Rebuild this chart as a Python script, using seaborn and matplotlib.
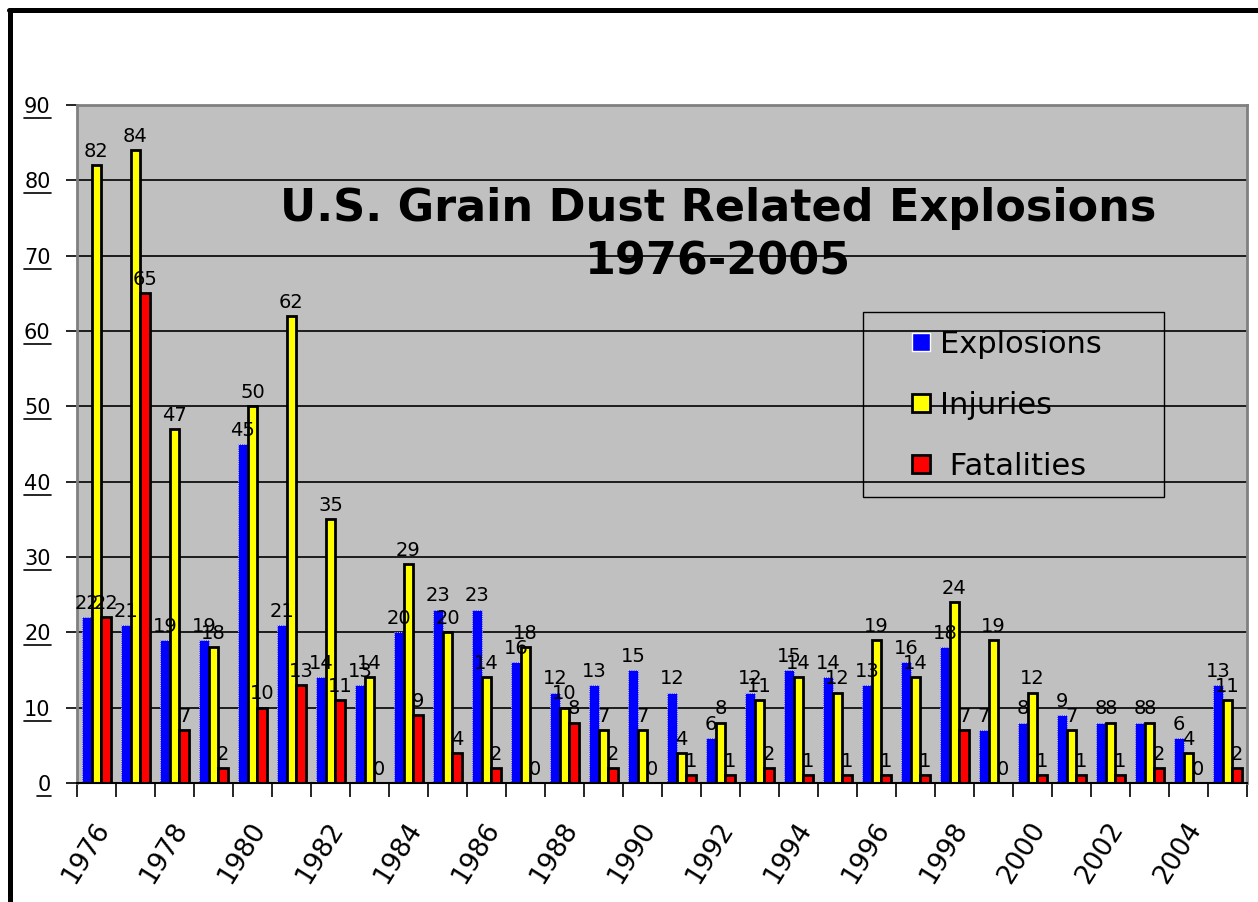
import numpy as np
import pandas as pd
import seaborn as sns
import matplotlib.pyplot as plt
import matplotlib.transforms as mtransforms
from matplotlib.lines import Line2D
from matplotlib.patches import Rectangle

# data
years = [1976, 1977, 1978, 1979, 1980, 1981, 1982, 1983, 1984, 1985,
         1986, 1987, 1988, 1989, 1990, 1991, 1992, 1993, 1994, 1995,
         1996, 1997, 1998, 1999, 2000, 2001, 2002, 2003, 2004, 2005]
explosions = [22, 21, 19, 19, 45, 21, 14, 13, 20, 23,
              23, 16, 12, 13, 15, 12, 6, 12, 15, 14,
              13, 16, 18, 7, 8, 9, 8, 8, 6, 13]
injuries = [82, 84, 47, 18, 50, 62, 35, 14, 29, 20,
            14, 18, 10, 7, 7, 4, 8, 11, 14, 12,
            19, 14, 24, 19, 12, 7, 8, 8, 4, 11]
fatalities = [22, 65, 7, 2, 10, 13, 11, 0, 9, 4,
              2, 0, 8, 2, 0, 1, 1, 2, 1, 1,
              1, 1, 7, 0, 1, 1, 1, 2, 0, 2]
series = ['Explosions', 'Injuries', 'Fatalities']
colors = ['#0000FF', '#FFFF00', '#FF0000']

df = pd.DataFrame({
    'year': years * 3,
    'kind': [s for s in series for _ in years],
    'value': explosions + injuries + fatalities,
})

sns.set_style('white')
plt.rcParams['font.family'] = ['DejaVu Sans']
plt.rcParams['text.color'] = 'black'
plt.rcParams['xtick.color'] = 'black'
plt.rcParams['ytick.color'] = 'black'

fig = plt.figure(figsize=(12.58, 9.02), dpi=100)
ax = fig.add_axes([0.0612, 0.132, 0.930, 0.7517])
ax.set_facecolor('#C0C0C0')

sns.barplot(data=df, x='year', y='value', hue='kind', hue_order=series,
            palette=colors, width=0.74, dodge=True, saturation=1,
            legend=False, ax=ax)

# bar outlines like the original
for i, cont in enumerate(ax.containers):
    for p in cont:
        if i == 0:
            p.set_edgecolor('white')
            p.set_linestyle(':')
            p.set_linewidth(0.6)
        else:
            p.set_edgecolor('black')
            p.set_linewidth(2)
    ax.bar_label(cont, fmt='%d', padding=3, fontsize=14, color='black')

ax.set_xlim(-0.5, len(years) - 0.5)
ax.set_ylim(0, 90)
ax.set_yticks(range(0, 91, 10))
ax.set_yticklabels([str(v) for v in range(0, 91, 10)], fontsize=15)
ax.tick_params(axis='y', length=8, width=1.2, color='black', pad=11, left=True)

ax.set_xticks(range(0, len(years), 2))
ax.set_xticklabels([str(y) for y in years[::2]], fontsize=19, rotation=58,
                   ha='right', va='center', rotation_mode='anchor')
ax.set_xticks(np.arange(-0.5, len(years), 1), minor=True)
ax.tick_params(axis='x', which='major', length=0, pad=30)
ax.tick_params(axis='x', which='minor', length=10, width=1.2, color='black',
               bottom=True)
offset = mtransforms.ScaledTranslation(0.07, 0, fig.dpi_scale_trans)
for lbl in ax.get_xticklabels():
    lbl.set_transform(lbl.get_transform() + offset)

ax.set_xlabel('')
ax.set_ylabel('')
ax.set_axisbelow(True)
ax.yaxis.grid(True, color='black', linewidth=1.2)

for side in ['left', 'top', 'right']:
    ax.spines[side].set_color('#808080')
    ax.spines[side].set_linewidth(2)
ax.spines['bottom'].set_color('black')
ax.spines['bottom'].set_linewidth(1.5)

ax.text(0.548, 0.808, 'U.S. Grain Dust Related Explosions\n1976-2005',
        transform=ax.transAxes, ha='center', va='center', fontsize=32,
        fontweight='bold', linespacing=1.3)

# legend: frame drawn separately, entries inside
ax.add_patch(Rectangle((0.672, 0.422), 0.257, 0.273, transform=ax.transAxes,
                       facecolor='none', edgecolor='black', linewidth=1,
                       zorder=5))
handles = [
    Line2D([], [], marker='s', linestyle='none', markersize=13,
           markerfacecolor=colors[0], markeredgecolor='white',
           markeredgewidth=1),
    Line2D([], [], marker='s', linestyle='none', markersize=13,
           markerfacecolor=colors[1], markeredgecolor='black',
           markeredgewidth=2),
    Line2D([], [], marker='s', linestyle='none', markersize=13,
           markerfacecolor=colors[2], markeredgecolor='black',
           markeredgewidth=2),
]
ax.legend(handles, ['Explosions', 'Injuries', ' Fatalities'],
          loc='upper left', bbox_to_anchor=(0.714, 0.668), frameon=False,
          fontsize=22, handlelength=0.6, handletextpad=0.3,
          labelspacing=1.05, borderpad=0, borderaxespad=0)

# outer frame (top and left edges of the slide)
fig.add_artist(Line2D([0.0075, 1.0], [1 - 10 / 902, 1 - 10 / 902],
                      transform=fig.transFigure, color='black', linewidth=3.6))
fig.add_artist(Line2D([9.5 / 1258, 9.5 / 1258], [0, 1 - 10 / 902],
                      transform=fig.transFigure, color='black', linewidth=3.6))

# underline the y tick labels
fig.canvas.draw()
for lbl in ax.get_yticklabels():
    bb = lbl.get_window_extent()
    fig.add_artist(Line2D([bb.x0, bb.x1], [bb.y0 - 1, bb.y0 - 1],
                          transform=None, color='black', linewidth=1.2))

fig.savefig('out.png', dpi=100)
